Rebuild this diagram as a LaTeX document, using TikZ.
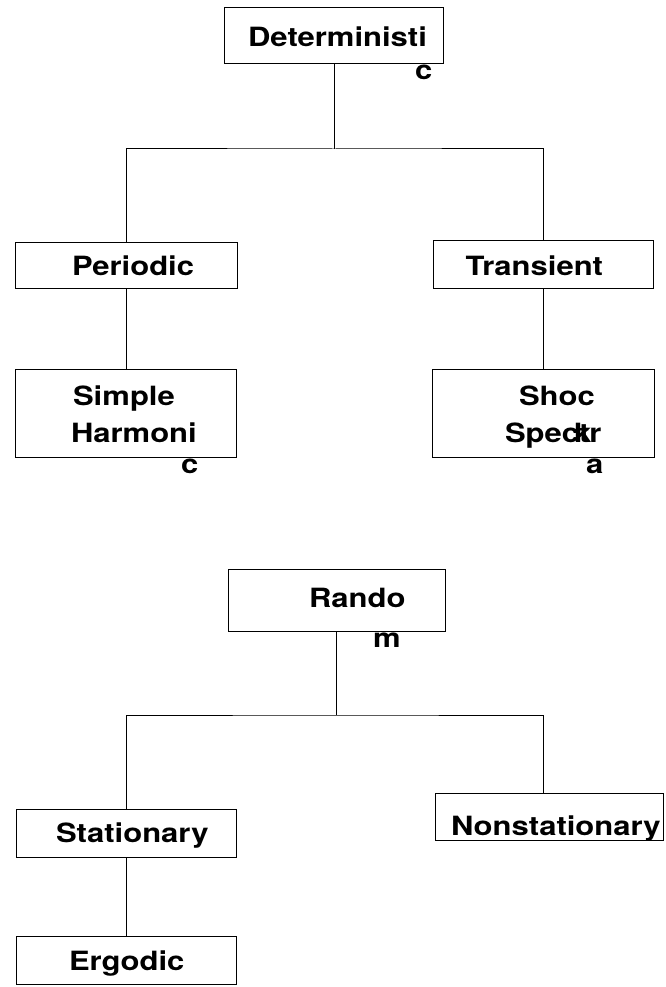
\documentclass[tikz,border=0pt]{standalone}
\usepackage{fontspec}
\newfontfamily\boxfont{TeX Gyre Heros}[FakeStretch=1.17]
\usepackage{tikz}
\usetikzlibrary{calc}
\tikzset{>=latex}
\tikzset{
  box/.style={draw,line width=1pt,rectangle,inner sep=0pt,anchor=center},
  lbl/.style={inner sep=0pt,anchor=base west,
    font=\boxfont\bfseries\fontsize{26.5}{30}\selectfont}
}

\begin{document}
\begin{tikzpicture}[x=1pt,y=-1pt,line width=1pt]
      \useasboundingbox (0,0) rectangle (665,987);

      % deterministic tree
      \coordinate (cdet) at (334,36);
      \coordinate (cper) at (126,265);
      \coordinate (ctra) at (543,264);
      \coordinate (csim) at (126,413);
      \coordinate (csho) at (543,413);

      \node [box,minimum width=219pt,minimum height=56pt] (det) at (cdet) {};
      \node [box,minimum width=222pt,minimum height=46pt] (per) at (cper) {};
      \node [box,minimum width=220pt,minimum height=48pt] (tra) at (ctra) {};
      \node [box,minimum width=221pt,minimum height=88pt] (sim) at (csim) {};
      \node [box,minimum width=222pt,minimum height=88pt] (sho) at (csho) {};

      \coordinate (jdet) at (334,149);
      \draw (det.south) -- (jdet);
      \draw (per.north) |- (jdet) -| (tra.north);
      \draw (per.south) -- (sim.north);
      \draw (tra.south) -- (sho.north);

      \node [lbl] (tdet) at (247.5,47) {Deterministi};
      \node [lbl] (tdetc) at (414.5,80) {c};
      \node [lbl] (tper) at (71.5,275) {Periodic};
      \node [lbl] (ttra) at (465,275) {Transient};
      \node [lbl] (tsim) at (72.5,405) {Simple};
      \node [lbl] (tsimb) at (70.5,442) {Harmoni};
      \node [lbl] (tsimc) at (180.5,473) {c};
      \node [lbl] (tsho) at (518.5,405) {Shoc};
      \node [lbl] (tshob) at (504.5,442) {Spectr};
      \node [lbl] (tshok) at (573.5,442) {k};
      \node [lbl] (tshoc) at (585.5,473) {a};

      % random tree
      \coordinate (cran) at (336.5,600);
      \coordinate (csta) at (126,833);
      \coordinate (cnon) at (549,816.5);
      \coordinate (cerg) at (126,960);

      \node [box,minimum width=217pt,minimum height=62pt] (ran) at (cran) {};
      \node [box,minimum width=220pt,minimum height=48pt] (sta) at (csta) {};
      \node [box,minimum width=228pt,minimum height=47pt] (non) at (cnon) {};
      \node [box,minimum width=220pt,minimum height=48pt] (erg) at (cerg) {};

      \coordinate (jran) at (336.5,715);
      \coordinate (nontop) at ($(non.north west)!0.474!(non.north east)$);
      \draw (ran.south) -- (jran);
      \draw (sta.north) |- (jran) -| (nontop);
      \draw (sta.south) -- (erg.north);

      \node [lbl] (tran) at (308.5,607) {Rando};
      \node [lbl] (tranm) at (372.5,647) {m};
      \node [lbl] (tsta) at (55.5,842) {Stationary};
      \node [lbl] (tnon) at (450.5,835) {Nonstationary};
      \node [lbl] (terg) at (68.5,970) {Ergodic};
  \end{tikzpicture}
\end{document}
